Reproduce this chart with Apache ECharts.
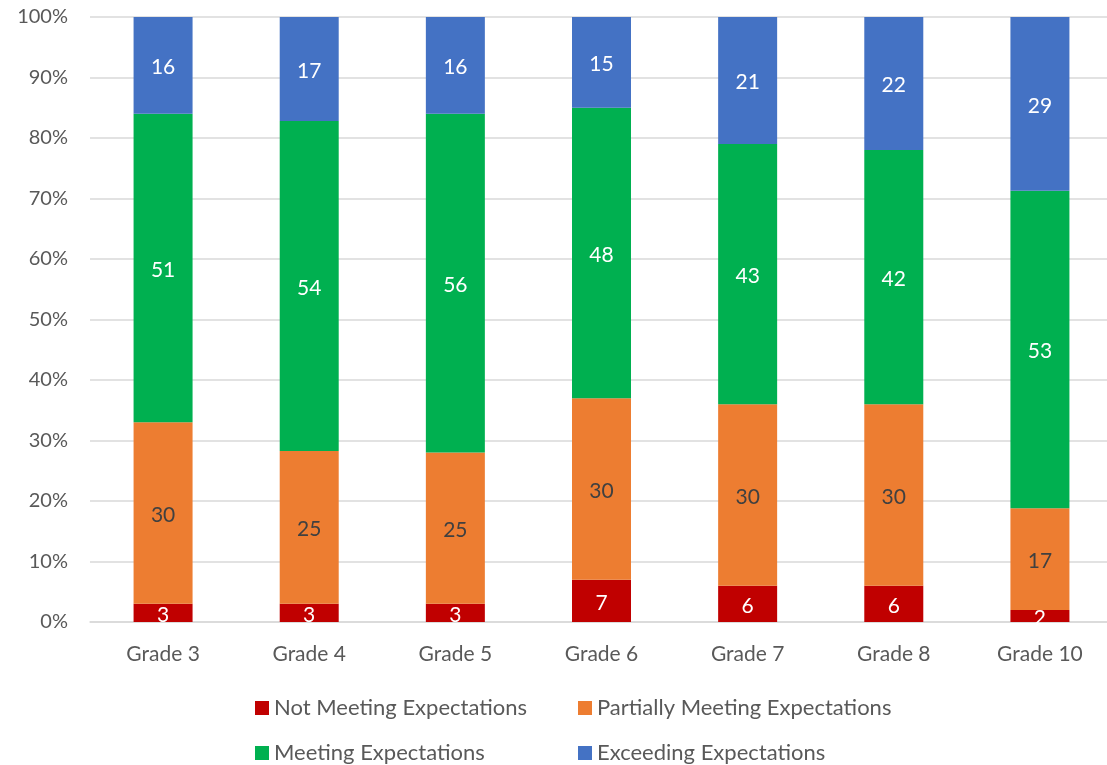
<!DOCTYPE html>
<html>
<head>
<meta charset="utf-8">
<script src="https://cdn.jsdelivr.net/npm/echarts@6/dist/echarts.min.js"></script>
<style>
  html, body { margin: 0; padding: 0; background: #fff; overflow: hidden; }
  /* the plot runs a few pixels past the right edge of the page */
  #chart { width: 1113px; height: 765px; }
</style>
</head>
<body>
<div id="chart"></div>
<script>
// Share of students at each achievement level, by grade
const grades = ['Grade 3', 'Grade 4', 'Grade 5', 'Grade 6', 'Grade 7', 'Grade 8', 'Grade 10'];
const notMeeting = [3, 3, 3, 7, 6, 6, 2];
const partiallyMeeting = [30, 25, 25, 30, 30, 30, 17];
const meeting = [51, 54, 56, 48, 43, 42, 53];
const exceeding = [16, 17, 16, 15, 21, 22, 29];
const yTicks = [0, 10, 20, 30, 40, 50, 60, 70, 80, 90, 100];

const FONT = 'Lato, "Open Sans", sans-serif';
const levels = [
  { name: 'Not Meeting Expectations', values: notMeeting, color: '#C00000', text: '#ffffff' },
  { name: 'Partially Meeting Expectations', values: partiallyMeeting, color: '#ED7D31', text: '#404040' },
  { name: 'Meeting Expectations', values: meeting, color: '#00B050', text: '#ffffff' },
  { name: 'Exceeding Expectations', values: exceeding, color: '#4472C4', text: '#ffffff' }
];

// 100% stacking: each grade's column is scaled to its own total
const totals = grades.map((_, i) => levels.reduce((s, l) => s + l.values[i], 0));

const series = levels.map(l => ({
  name: l.name,
  type: 'bar',
  stack: 'all',
  barWidth: 59,
  itemStyle: { color: l.color },
  label: {
    show: true,
    position: 'inside',
    offset: [0, 2],
    color: l.text,
    fontFamily: FONT,
    fontSize: 21,
    formatter: p => l.values[p.dataIndex]
  },
  data: l.values.map((v, i) => v / totals[i] * 100)
}));

// legend laid out as a 2x2 block: one legend component per entry
const legendSlots = [
  { idx: 0, left: 250, top: 692 },
  { idx: 1, left: 573, top: 692 },
  { idx: 2, left: 250, top: 737 },
  { idx: 3, left: 573, top: 737 }
];
const legends = legendSlots.map(s => ({
  left: s.left, top: s.top,
  itemWidth: 14, itemHeight: 14, itemGap: 6, icon: 'rect',
  textStyle: { color: '#595959', fontSize: 22, fontFamily: FONT },
  data: [levels[s.idx].name]
}));

const chart = echarts.init(document.getElementById('chart'), null, { renderer: 'canvas' });
chart.setOption({
  animation: false,
  textStyle: { fontFamily: FONT },
  grid: { left: 90, top: 17, right: 0, height: 605, containLabel: false },
  xAxis: {
    type: 'category',
    data: grades,
    axisLine: { show: true, lineStyle: { color: '#D9D9D9', width: 1.5 } },
    axisTick: { show: false },
    axisLabel: { color: '#595959', fontSize: 21, fontFamily: FONT, margin: 22 }
  },
  yAxis: {
    type: 'value',
    min: yTicks[0],
    max: yTicks[yTicks.length - 1],
    interval: yTicks[1] - yTicks[0],
    axisLine: { show: false },
    axisTick: { show: false },
    splitLine: { lineStyle: { color: '#D9D9D9', width: 1.5 } },
    axisLabel: { color: '#595959', fontSize: 20, fontFamily: FONT, margin: 22, formatter: '{value}%' }
  },
  legend: legends,
  series: series
});
</script>
</body>
</html>
